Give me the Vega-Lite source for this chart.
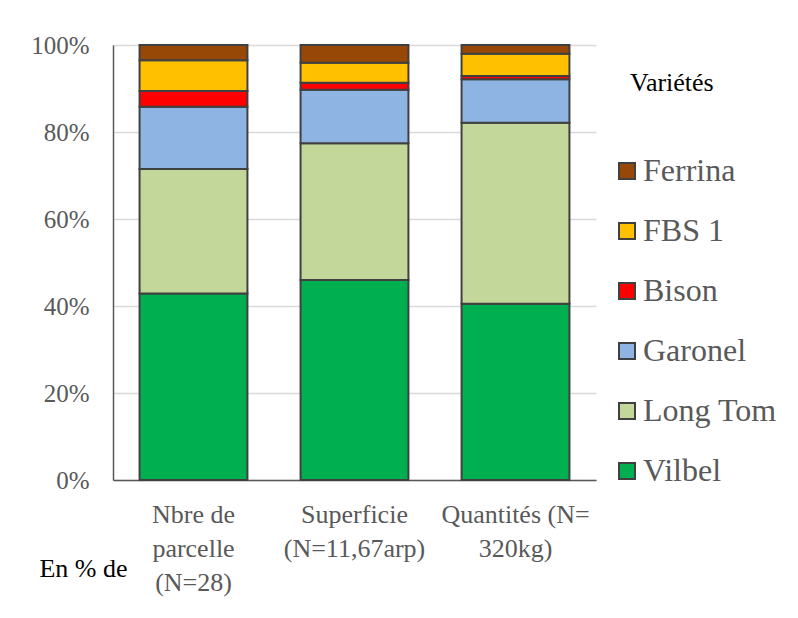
{
  "$schema": "https://vega.github.io/schema/vega-lite/v6.json",
  "autosize": {"type": "none"},
  "width": 483,
  "height": 435,
  "padding": {"left": 113, "top": 45, "right": 202, "bottom": 138},
  "background": "white",
  "config": {
    "font": "Liberation Serif",
    "view": {"stroke": null}
  },
  "title": {
    "text": "Variétés",
    "anchor": "start",
    "frame": "group",
    "orient": "top",
    "offset": 0,
    "dx": 517,
    "dy": 84,
    "baseline": "alphabetic",
    "fontSize": 26,
    "fontWeight": "normal",
    "color": "#000000"
  },
  "data": {
    "values": [
      {"cat": "Nbre de|parcelle|(N=28)", "variete": "Vilbel", "k": 1, "pct": 42.9},
      {"cat": "Nbre de|parcelle|(N=28)", "variete": "Long Tom", "k": 2, "pct": 28.6},
      {"cat": "Nbre de|parcelle|(N=28)", "variete": "Garonel", "k": 3, "pct": 14.3},
      {"cat": "Nbre de|parcelle|(N=28)", "variete": "Bison", "k": 4, "pct": 3.6},
      {"cat": "Nbre de|parcelle|(N=28)", "variete": "FBS 1", "k": 5, "pct": 7.1},
      {"cat": "Nbre de|parcelle|(N=28)", "variete": "Ferrina", "k": 6, "pct": 3.5},
      {"cat": "Superficie|(N=11,67arp)", "variete": "Vilbel", "k": 1, "pct": 46.0},
      {"cat": "Superficie|(N=11,67arp)", "variete": "Long Tom", "k": 2, "pct": 31.4},
      {"cat": "Superficie|(N=11,67arp)", "variete": "Garonel", "k": 3, "pct": 12.3},
      {"cat": "Superficie|(N=11,67arp)", "variete": "Bison", "k": 4, "pct": 1.6},
      {"cat": "Superficie|(N=11,67arp)", "variete": "FBS 1", "k": 5, "pct": 4.6},
      {"cat": "Superficie|(N=11,67arp)", "variete": "Ferrina", "k": 6, "pct": 4.1},
      {"cat": "Quantités (N=|320kg)", "variete": "Vilbel", "k": 1, "pct": 40.5},
      {"cat": "Quantités (N=|320kg)", "variete": "Long Tom", "k": 2, "pct": 41.6},
      {"cat": "Quantités (N=|320kg)", "variete": "Garonel", "k": 3, "pct": 10.0},
      {"cat": "Quantités (N=|320kg)", "variete": "Bison", "k": 4, "pct": 0.8},
      {"cat": "Quantités (N=|320kg)", "variete": "FBS 1", "k": 5, "pct": 5.1},
      {"cat": "Quantités (N=|320kg)", "variete": "Ferrina", "k": 6, "pct": 2.0}
    ]
  },
  "mark": {"type": "bar", "stroke": "#404040", "strokeWidth": 2},
  "encoding": {
    "x": {
      "field": "cat",
      "type": "nominal",
      "sort": null,
      "scale": {"paddingInner": 0.33, "paddingOuter": 0.165},
      "axis": {
        "title": "En % de",
        "titleFontSize": 26,
        "titleFontWeight": "normal",
        "titleColor": "#000000",
        "titleAlign": "center",
        "titleBaseline": "middle",
        "titleX": -30,
        "titleY": 88,
        "labelExpr": "split(datum.label, '|')",
        "labelAngle": 0,
        "labelFontSize": 26,
        "labelColor": "#595959",
        "labelLineHeight": 34,
        "labelPadding": 21,
        "labelOverlap": false,
        "labelBound": false,
        "labelLimit": 400,
        "ticks": false,
        "domainColor": "#595959",
        "domainWidth": 1.5
      }
    },
    "y": {
      "field": "pct",
      "type": "quantitative",
      "stack": "normalize",
      "scale": {"domain": [0, 1]},
      "axis": {
        "title": null,
        "format": ".0%",
        "values": [0, 0.2, 0.4, 0.6, 0.8, 1],
        "labelFontSize": 25,
        "labelColor": "#595959",
        "labelPadding": 24,
        "ticks": false,
        "grid": true,
        "gridColor": "#d9d9d9",
        "gridWidth": 1.5,
        "domain": true,
        "domainColor": "#595959",
        "domainWidth": 1.5
      }
    },
    "color": {
      "field": "variete",
      "type": "nominal",
      "scale": {
        "domain": ["Ferrina", "FBS 1", "Bison", "Garonel", "Long Tom", "Vilbel"],
        "range": ["#974706", "#FFC000", "#FF0000", "#8DB4E2", "#C4D79B", "#00B050"]
      },
      "legend": {
        "title": null,
        "orient": "none",
        "legendX": 498,
        "legendY": 110,
        "labelFontSize": 32,
        "labelColor": "#595959",
        "labelOffset": 0,
        "symbolType": "square",
        "symbolSize": 256,
        "symbolStrokeColor": "#404040",
        "symbolStrokeWidth": 2,
        "rowPadding": 28
      }
    },
    "order": {"field": "k", "type": "quantitative"}
  }
}
